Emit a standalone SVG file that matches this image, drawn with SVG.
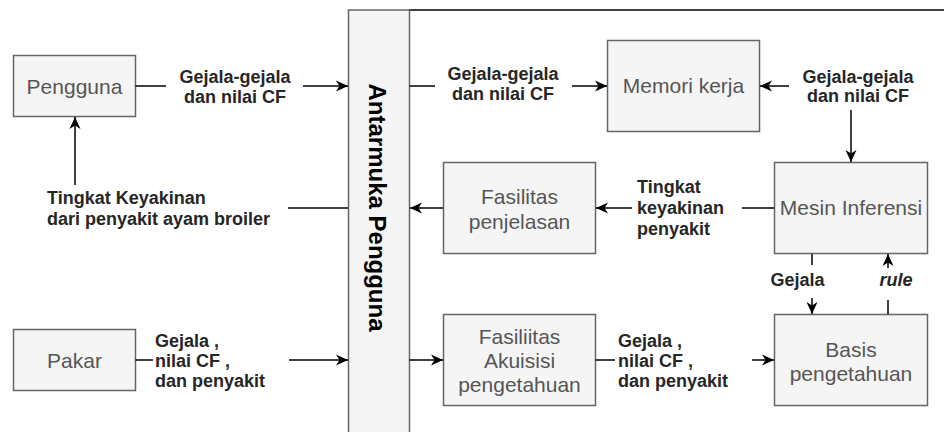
<svg xmlns="http://www.w3.org/2000/svg" width="944" height="432" viewBox="0 0 944 432">
  <style>
    .box { fill: #f5f5f5; stroke: #666666; stroke-width: 1.5; }
    .bt { font-family: "Liberation Sans", Arial, sans-serif; font-size: 21px; fill: #555555; text-anchor: middle; }
    .lb { font-family: "Liberation Sans", Arial, sans-serif; font-size: 18px; font-weight: bold; fill: #262626; }
    .c { text-anchor: middle; }
    .ln { stroke: #000; stroke-width: 1.5; fill: none; }
    .ar { marker-end: url(#arr); }
  </style>
  <defs>
    <marker id="arr" markerUnits="userSpaceOnUse" markerWidth="16" markerHeight="16" viewBox="-14 -8 16 16" refX="0" refY="0" orient="auto">
      <path d="M0,0 L-12,-5.5 L-8.5,0 L-12,5.5 Z" fill="#000"/>
    </marker>
  </defs>

  <line x1="409" y1="10" x2="944" y2="10" stroke="#000" stroke-width="1.5"/>

  <g id="antarmuka">
    <rect class="box" x="348.5" y="10" width="61" height="440"/>
    <text transform="translate(369,207.5) rotate(90)" text-anchor="middle" font-family="'Liberation Sans', Arial, sans-serif" font-size="24" font-weight="bold" fill="#000">Antarmuka Pengguna</text>
  </g>

  <g id="pengguna">
    <rect class="box" x="13.5" y="55.5" width="122" height="61"/>
    <text class="bt" x="74.5" y="94">Pengguna</text>
  </g>

  <g id="pakar">
    <rect class="box" x="13.5" y="329.5" width="122" height="61"/>
    <text class="bt" x="74.5" y="368">Pakar</text>
  </g>

  <g id="memori">
    <rect class="box" x="607.5" y="40.5" width="152" height="91"/>
    <text class="bt" x="683.5" y="93">Memori kerja</text>
  </g>

  <g id="penjelasan">
    <rect class="box" x="443.5" y="162.5" width="152" height="91"/>
    <text class="bt" x="519.5" y="204">Fasilitas</text>
    <text class="bt" x="519.5" y="229">penjelasan</text>
  </g>

  <g id="mesin">
    <rect class="box" x="774.5" y="162.5" width="153" height="91"/>
    <text class="bt" x="851" y="215">Mesin Inferensi</text>
  </g>

  <g id="akuisisi">
    <rect class="box" x="443.5" y="314.5" width="152" height="91"/>
    <text class="bt" x="519.5" y="344">Fasiliitas</text>
    <text class="bt" x="519.5" y="368">Akuisisi</text>
    <text class="bt" x="519.5" y="392">pengetahuan</text>
  </g>

  <g id="basis">
    <rect class="box" x="774.5" y="314.5" width="153" height="91"/>
    <text class="bt" x="851" y="357">Basis</text>
    <text class="bt" x="851" y="381">pengetahuan</text>
  </g>

  <g id="connectors">
    <line class="ln" x1="135.5" y1="86" x2="166" y2="86"/>
    <line class="ln ar" x1="303" y1="86" x2="348" y2="86"/>
    <text class="lb c" x="235" y="83">Gejala-gejala</text>
    <text class="lb c" x="235" y="103">dan nilai CF</text>

    <line class="ln" x1="409.5" y1="86" x2="435" y2="86"/>
    <line class="ln ar" x1="572" y1="86" x2="607" y2="86"/>
    <text class="lb c" x="503" y="80">Gejala-gejala</text>
    <text class="lb c" x="503" y="100">dan nilai CF</text>

    <line class="ln ar" x1="789" y1="86" x2="760" y2="86"/>
    <line class="ln ar" x1="851" y1="110" x2="851" y2="162"/>
    <text class="lb c" x="858" y="83">Gejala-gejala</text>
    <text class="lb c" x="858" y="102">dan nilai CF</text>

    <line class="ln" x1="774" y1="208" x2="742" y2="208"/>
    <line class="ln ar" x1="632" y1="208" x2="596" y2="208"/>
    <text class="lb" x="637" y="193">Tingkat</text>
    <text class="lb" x="637" y="214">keyakinan</text>
    <text class="lb" x="637" y="235">penyakit</text>

    <line class="ln ar" x1="443" y1="208" x2="410" y2="208"/>

    <line class="ln" x1="348" y1="208" x2="288" y2="208"/>
    <line class="ln ar" x1="75" y1="185" x2="75" y2="117"/>
    <text class="lb" x="47" y="204">Tingkat Keyakinan</text>
    <text class="lb" x="47" y="225">dari penyakit ayam broiler</text>

    <line class="ln" x1="135.5" y1="360" x2="153" y2="360"/>
    <line class="ln ar" x1="289" y1="360" x2="348" y2="360"/>
    <text class="lb" x="155" y="347">Gejala ,</text>
    <text class="lb" x="155" y="367">nilai CF ,</text>
    <text class="lb" x="155" y="387">dan penyakit</text>

    <line class="ln ar" x1="409.5" y1="360" x2="443" y2="360"/>

    <line class="ln" x1="595.5" y1="360" x2="615" y2="360"/>
    <line class="ln ar" x1="752" y1="360" x2="774" y2="360"/>
    <text class="lb" x="618" y="347">Gejala ,</text>
    <text class="lb" x="618" y="367">nilai CF ,</text>
    <text class="lb" x="618" y="387">dan penyakit</text>

    <line class="ln" x1="812" y1="254" x2="812" y2="265"/>
    <line class="ln ar" x1="812" y1="298" x2="812" y2="314"/>
    <text class="lb c" x="797.5" y="286">Gejala</text>

    <line class="ln" x1="888" y1="314" x2="888" y2="300"/>
    <line class="ln ar" x1="888" y1="268" x2="888" y2="254"/>
    <text class="lb c" x="896" y="286" font-style="italic">rule</text>
  </g>
</svg>
